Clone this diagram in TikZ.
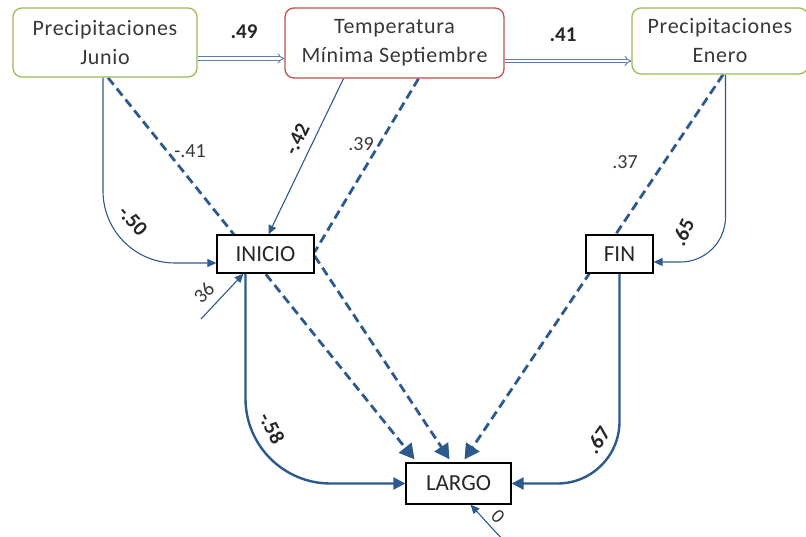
\documentclass[tikz,border=0pt]{standalone}
\usepackage{fontspec}
\setmainfont{Carlito}
\newfontfamily\boxfont{Carlito}[LetterSpace=3]
\usetikzlibrary{arrows.meta,backgrounds,calc}
\definecolor{lb}{RGB}{44,90,142}
\definecolor{dbl}{RGB}{95,125,165}
\definecolor{grn}{RGB}{155,187,89}
\definecolor{rd}{RGB}{192,80,77}
\definecolor{txt}{RGB}{56,56,56}
\begin{document}
\begin{tikzpicture}[x=1pt,y=-1pt,
 topbox/.style={rounded corners=9pt, line width=1.3pt, fill=white, align=center, text=txt, font=\boxfont\fontsize{22}{29}\selectfont, inner sep=0pt},
 varbox/.style={draw=black, line width=1.3pt, fill=white, font=\fontsize{23}{24}\selectfont, text=black!85, inner sep=0pt},
 thinarr/.style={draw=lb, line width=1.1pt, -{Triangle[length=9pt,width=8pt]}},
 thickarr/.style={draw=lb, line width=2.4pt, -{Triangle[length=12pt,width=12pt]}},
 dsh/.style={draw=lb, line width=2.8pt, dash pattern=on 9pt off 5pt},
 dsharr/.style={dsh, -{Triangle[length=15pt,width=16pt]}},
 dblarr/.style={draw=dbl, double=white, double distance=2.6pt, line width=0.9pt, -{Implies}},
 blab/.style={font=\fontsize{21}{21}\selectfont\bfseries, text=black!85, inner sep=0pt},
 plab/.style={font=\fontsize{20}{20}\selectfont, text=txt, inner sep=0pt},
]
\useasboundingbox (0,0) rectangle (806,537);

% boxes
\node[topbox, draw=grn, minimum width=184pt, minimum height=69pt] (junio) at (105,42.5) {Precipitaciones\\Junio};
\node[topbox, draw=rd, minimum width=219pt, minimum height=70pt] (temp) at (394.5,43) {Temperatura\\Mínima Septiembre};
\node[topbox, draw=grn, minimum width=176pt, minimum height=66pt] (enero) at (720,41) {Precipitaciones\\Enero};
\node[varbox, minimum width=97pt, minimum height=38pt] (inicio) at (265.5,254) {INICIO};
\node[varbox, minimum width=67pt, minimum height=38pt] (fin) at (619.5,254) {FIN};
\node[varbox, minimum width=105pt, minimum height=41pt] (largo) at (458.5,483.5) {LARGO};

\coordinate (e1) at (201,319);
\coordinate (e2) at (503,540);

\begin{pgfonlayer}{background}
% double arrows
\draw[dblarr] ([yshift=-16pt]junio.east) -- ([yshift=-16pt]junio.east -| temp.west);
\draw[dblarr] ([yshift=-18pt]temp.east) -- ([yshift=-18pt]temp.east -| enero.west);
% dashed
\draw[dsharr] ([xshift=3pt]junio.south) -- ([xshift=-44pt,yshift=3pt]largo.north);
\draw[dsh] ([xshift=24pt]temp.south) -- ([yshift=2pt]inicio.east);
\draw[dsharr] ([yshift=-2pt]inicio.east) -- ([xshift=-9pt,yshift=3pt]largo.north);
\draw[dsharr] ([xshift=3pt]enero.south) -- ([xshift=6pt,yshift=3pt]largo.north);
% solid thin
\draw[thinarr, rounded corners=72pt] ([xshift=-2pt]junio.south) |- ([yshift=-9pt]inicio.west);
\draw[thinarr] ([xshift=-51pt]temp.south) -- ([xshift=3pt]inicio.north);
\draw[thinarr, rounded corners=45pt] ([xshift=5.5pt]enero.south) |- ([yshift=-8pt]fin.east);
\draw[thinarr] (e1) -- ([xshift=-22pt]inicio.south);
\draw[thinarr] (e2) -- ([xshift=12pt]largo.south);
% solid thick
\draw[thickarr, rounded corners=85pt] ([xshift=-20pt]inicio.south) |- (largo.west);
\draw[thickarr, rounded corners=62pt] (fin.south) |- (largo.east);
\end{pgfonlayer}

% labels
\node[blab] (l49) at (244,32) {.49};
\node[blab] (l41b) at (563,35) {.41};
\node[plab] (l41) at (190,151) {-.41};
\node[blab, rotate=-48] (l50) at (133,221) {-.50};
\node[blab, rotate=64] (l42) at (297,139) {-.42};
\node[plab] (l39) at (361,144) {.39};
\node[plab] (l37) at (625,162) {.37};
\node[blab, rotate=65] (l65) at (683,232) {.65};
\node[plab, rotate=45] (l36) at (204,293) {36};
\node[blab, rotate=-62] (l58) at (272,428) {-.58};
\node[blab, rotate=55] (l67) at (598,440) {.67};
\node[plab, rotate=-45] (l0) at (498,517) {0};
\end{tikzpicture}
\end{document}
